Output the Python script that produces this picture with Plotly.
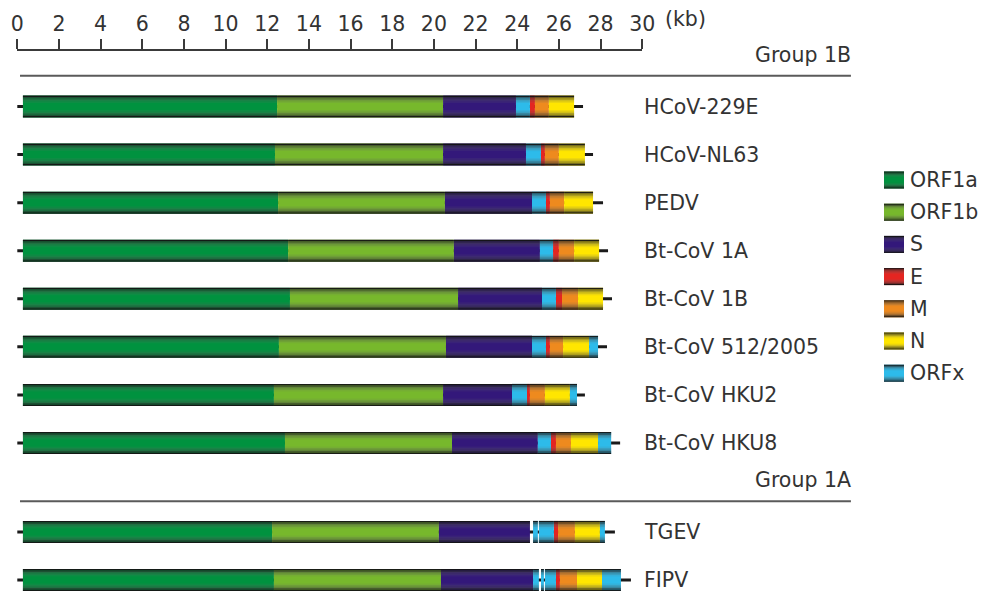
import plotly.graph_objects as go

W, H = 982, 594

# ---------------- data ----------------
genome_names = ["HCoV-229E", "HCoV-NL63", "PEDV", "Bt-CoV 1A", "Bt-CoV 1B",
                "Bt-CoV 512/2005", "Bt-CoV HKU2", "Bt-CoV HKU8", "TGEV", "FIPV"]
genome_groups = ["Group 1B"] * 8 + ["Group 1A"] * 2
genome_lengths = [27.16, 27.64, 28.12, 28.36, 28.55, 28.31, 27.25, 28.94, 28.69, 29.46]

seg_229e = [("ORF1a", 0.27, 12.47), ("ORF1b", 12.47, 20.44), ("S", 20.44, 23.94),
            ("ORFx", 23.94, 24.61), ("E", 24.61, 24.85), ("M", 24.85, 25.52), ("N", 25.52, 26.73)]
seg_nl63 = [("ORF1a", 0.27, 12.37), ("ORF1b", 12.37, 20.44), ("S", 20.44, 24.42),
            ("ORFx", 24.42, 25.14), ("E", 25.14, 25.33), ("M", 25.33, 26.00), ("N", 26.00, 27.25)]
seg_pedv = [("ORF1a", 0.27, 12.52), ("ORF1b", 12.52, 20.53), ("S", 20.53, 24.71),
            ("ORFx", 24.71, 25.38), ("E", 25.38, 25.57), ("M", 25.57, 26.25), ("N", 26.25, 27.64)]
seg_bt1a = [("ORF1a", 0.27, 13.00), ("ORF1b", 13.00, 20.96), ("S", 20.96, 25.09),
            ("ORFx", 25.09, 25.72), ("E", 25.72, 26.00), ("M", 26.00, 26.73), ("N", 26.73, 27.93)]
seg_bt1b = [("ORF1a", 0.27, 13.09), ("ORF1b", 13.09, 21.16), ("S", 21.16, 25.19),
            ("ORFx", 25.19, 25.86), ("E", 25.86, 26.15), ("M", 26.15, 26.92), ("N", 26.92, 28.12)]
seg_bt512 = [("ORF1a", 0.27, 12.56), ("ORF1b", 12.56, 20.58), ("S", 20.58, 24.71),
             ("ORFx", 24.71, 25.38), ("E", 25.38, 25.57), ("M", 25.57, 26.20), ("N", 26.20, 27.45),
             ("ORFx", 27.45, 27.88)]
seg_hku2 = [("ORF1a", 0.27, 12.32), ("ORF1b", 12.32, 20.44), ("S", 20.44, 23.75),
            ("ORFx", 23.75, 24.47), ("E", 24.47, 24.61), ("M", 24.61, 25.33), ("N", 25.33, 26.53),
            ("ORFx", 26.53, 26.87)]
seg_hku8 = [("ORF1a", 0.27, 12.85), ("ORF1b", 12.85, 20.87), ("S", 20.87, 24.99),
            ("ORFx", 24.99, 25.62), ("E", 25.62, 25.86), ("M", 25.86, 26.58), ("N", 26.58, 27.88),
            ("ORFx", 27.88, 28.51)]
seg_tgev = [("ORF1a", 0.27, 12.23), ("ORF1b", 12.23, 20.24), ("S", 20.24, 24.61),
            ("ORFx", 24.76, 24.99), ("ORFx", 25.04, 25.76), ("E", 25.76, 25.96),
            ("M", 25.96, 26.77), ("N", 26.77, 27.97), ("ORFx", 27.97, 28.21)]
seg_fipv = [("ORF1a", 0.27, 12.32), ("ORF1b", 12.32, 20.34), ("S", 20.34, 24.76),
            ("ORFx", 24.76, 25.04), ("ORFx", 25.14, 25.28), ("ORFx", 25.33, 25.86),
            ("E", 25.86, 26.05), ("M", 26.05, 26.87), ("N", 26.87, 28.07), ("ORFx", 28.07, 28.98)]
genome_segments = [seg_229e, seg_nl63, seg_pedv, seg_bt1a, seg_bt1b,
                   seg_bt512, seg_hku2, seg_hku8, seg_tgev, seg_fipv]

ruler_ticks = list(range(0, 31, 2))
ruler_labels = [str(t) for t in ruler_ticks]
legend_genes = ["ORF1a", "ORF1b", "S", "E", "M", "N", "ORFx"]

# ---------------- style ----------------
gene_colors = {"ORF1a": "#00923f", "ORF1b": "#77b82c", "S": "#33187a", "E": "#e42521",
               "M": "#ee8a1e", "N": "#ffe600", "ORFx": "#2dbbea"}
FONT = "DejaVu Sans"
FS = 20.5
TXT = "#333333"
X0PX, PXKB = 17.3, 20.83      # pixel of 0 kb, pixels per kb
Y0PX, PXROW = 106.5, 48.07    # pixel of first row, pixels per row
GROUP_GAP = 0.85
BAR_PX = 22
shade_bands = [(0.0, 1.5, "rgba(20,20,20,0.95)"), (1.5, 3.0, "rgba(45,45,45,0.65)"),
               (3.0, 4.5, "rgba(70,70,70,0.45)"), (4.5, 6.0, "rgba(90,90,90,0.28)"),
               (6.0, 7.5, "rgba(110,110,110,0.12)")]

# row positions from group membership
rows = []
g_idx = 0
for i, g in enumerate(genome_groups):
    if i > 0 and g != genome_groups[i - 1]:
        g_idx += 1
    rows.append(i + GROUP_GAP * g_idx)

fig = go.Figure()

# backbone line (UTRs)
fig.add_trace(go.Bar(orientation="h", y=rows, base=[0] * len(rows), x=genome_lengths,
                     width=3 / PXROW, marker=dict(color="#1a1a1a", line=dict(width=0)),
                     hoverinfo="skip", showlegend=False))

# gene segments
all_y, all_b, all_x = [], [], []
for gene in gene_colors:
    ys, bs, xs = [], [], []
    for r, segs in zip(rows, genome_segments):
        for (g, s, e) in segs:
            if g == gene:
                ys.append(r); bs.append(s); xs.append(e - s)
    all_y += ys; all_b += bs; all_x += xs
    fig.add_trace(go.Bar(orientation="h", y=ys, base=bs, x=xs, width=BAR_PX / PXROW,
                         marker=dict(color=gene_colors[gene], line=dict(width=0)),
                         name=gene, hoverinfo="skip", showlegend=False))

# tube shading
half = BAR_PX / 2
for (a, b, col) in shade_bands:
    for off in [(-half + a) / PXROW, (half - b) / PXROW]:
        fig.add_trace(go.Bar(orientation="h", y=all_y, base=all_b, x=all_x,
                             width=(b - a) / PXROW, offset=off,
                             marker=dict(color=col, line=dict(width=0)),
                             hoverinfo="skip", showlegend=False))

# dummy trace for ruler axis
fig.add_trace(go.Scatter(x=[0], y=[-50], xaxis="x2", yaxis="y", mode="markers",
                         marker=dict(opacity=0), hoverinfo="skip", showlegend=False))

annotations = []
shapes = []

# genome labels
for r, name in zip(rows, genome_names):
    annotations.append(dict(x=29.98, y=r, xref="x", yref="y", text=name, showarrow=False,
                            xanchor="left", yanchor="middle",
                            font=dict(family=FONT, size=FS, color=TXT)))

# group headers
seen = []
for r, g in zip(rows, genome_groups):
    if g in seen:
        continue
    seen.append(g)
    shapes.append(dict(type="line", xref="x", yref="y", x0=0.13, x1=40.02,
                       y0=r - 0.64, y1=r - 0.64, line=dict(color="#5a5a5a", width=2)))
    annotations.append(dict(x=40.1, y=r - 1.07, xref="x", yref="y", text=g, showarrow=False,
                            xanchor="right", yanchor="middle",
                            font=dict(family=FONT, size=FS, color=TXT)))

# kb unit label
annotations.append(dict(x=663 / W, y=1 - 19 / H, xref="paper", yref="paper", text="(kb)",
                        showarrow=False, xanchor="left", yanchor="middle",
                        font=dict(family=FONT, size=FS, color=TXT)))

# legend
LX0, LX1, LY0, LDY, LH = 884, 904, 180, 32.2, 17
for i, gene in enumerate(legend_genes):
    yc = LY0 + LDY * i
    top, bot = yc - LH / 2, yc + LH / 2
    shapes.append(dict(type="rect", xref="paper", yref="paper", x0=LX0 / W, x1=LX1 / W,
                       y0=1 - bot / H, y1=1 - top / H, fillcolor=gene_colors[gene],
                       line=dict(width=0), layer="above"))
    sc = LH / BAR_PX
    for (a, b, col) in shade_bands:
        for (t0, t1) in [(top + a * sc, top + b * sc), (bot - b * sc, bot - a * sc)]:
            shapes.append(dict(type="rect", xref="paper", yref="paper", x0=LX0 / W, x1=LX1 / W,
                               y0=1 - t1 / H, y1=1 - t0 / H, fillcolor=col,
                               line=dict(width=0), layer="above"))
    annotations.append(dict(x=908 / W, y=1 - yc / H, xref="paper", yref="paper", text=gene,
                            showarrow=False, xanchor="left", yanchor="middle",
                            font=dict(family=FONT, size=FS, color=TXT)))

fig.update_layout(
    width=W, height=H, margin=dict(l=0, r=0, t=0, b=0, autoexpand=False),
    paper_bgcolor="white", plot_bgcolor="rgba(0,0,0,0)",
    barmode="overlay", showlegend=False,
    font=dict(family=FONT, size=FS, color=TXT),
    xaxis=dict(visible=False, range=[-X0PX / PXKB, (W - X0PX) / PXKB], fixedrange=True),
    yaxis=dict(visible=False, range=[(H - Y0PX) / PXROW, -Y0PX / PXROW], fixedrange=True),
    xaxis2=dict(domain=[X0PX / W, (X0PX + 30 * PXKB) / W], range=[0, 30], anchor="free",
                position=1 - 50 / H, side="top", showline=True, linecolor="#3a3a3a",
                linewidth=2, ticks="outside", ticklen=10, tickwidth=2, tickcolor="#3a3a3a",
                tickvals=ruler_ticks, ticktext=ruler_labels, showgrid=False, zeroline=False,
                tickfont=dict(family=FONT, size=FS, color=TXT), fixedrange=True),
    annotations=annotations, shapes=shapes,
)

fig.write_html("out.html", config={"displayModeBar": False, "staticPlot": True},
               post_script="document.body.style.margin='0';document.body.style.overflow='hidden';")
